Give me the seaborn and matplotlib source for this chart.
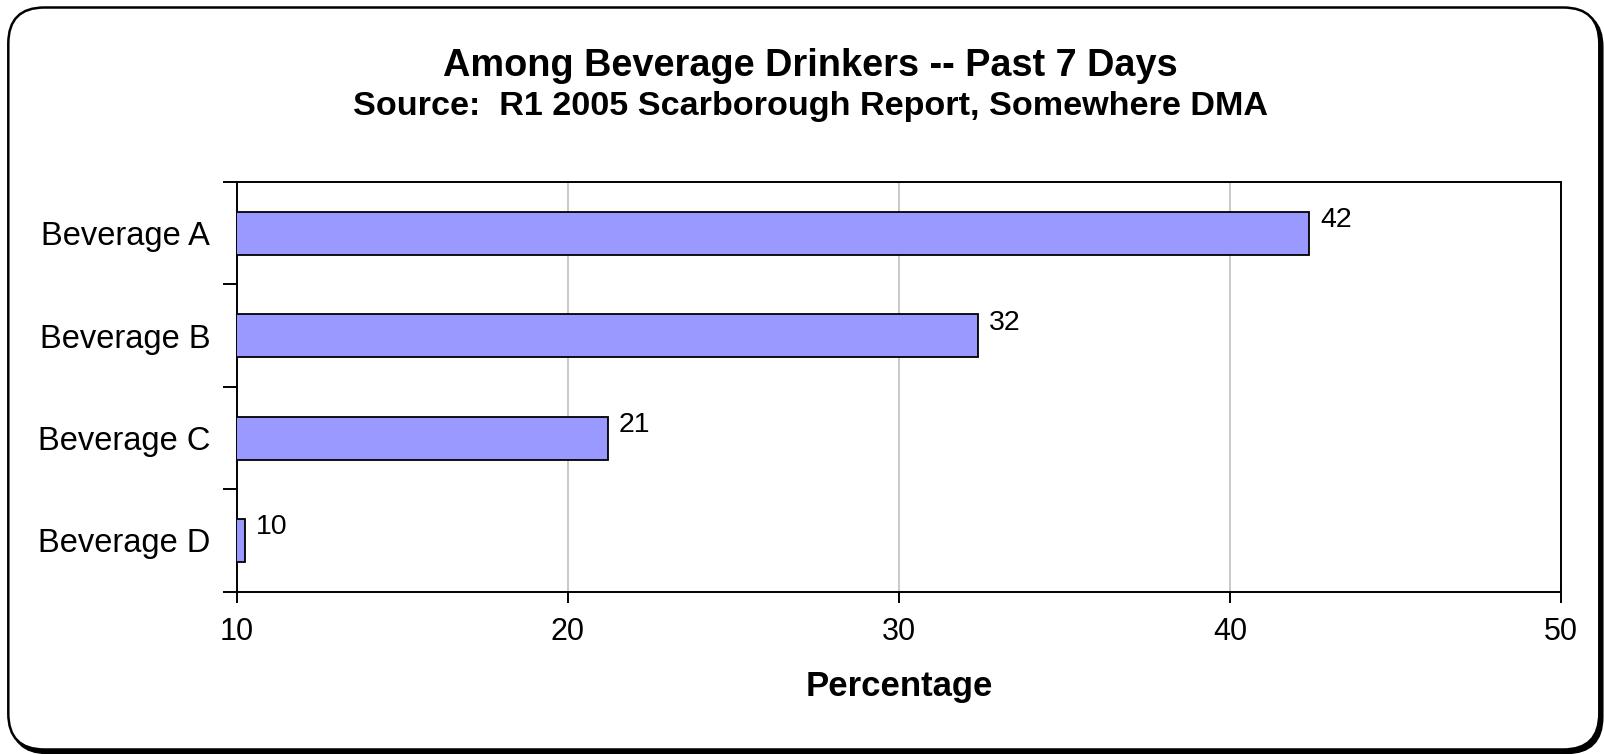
import matplotlib
matplotlib.use("Agg")
import matplotlib.pyplot as plt
from matplotlib.patches import FancyBboxPatch
from matplotlib.ticker import FixedLocator
import seaborn as sns
import pandas as pd

# Survey results: share of beverage drinkers in the past 7 days
categories = ["Beverage A", "Beverage B", "Beverage C", "Beverage D"]
percentages = [42.4, 32.4, 21.2, 10.25]
x_ticks = [10, 20, 30, 40, 50]

title = "Among Beverage Drinkers -- Past 7 Days"
subtitle = "Source:  R1 2005 Scarborough Report, Somewhere DMA"
x_label = "Percentage"

sns.set_style("white")
plt.rcParams["font.family"] = ["Liberation Sans", "DejaVu Sans"]

df = pd.DataFrame({"category": categories, "pct": percentages})

DPI = 100
fig = plt.figure(figsize=(16.04, 7.54), dpi=DPI)

# Rounded outer frame with a drop shadow, kept behind the axes
shadow = FancyBboxPatch((0.113, 0.01), 15.91, 7.42,
                        boxstyle="round,pad=0,rounding_size=0.36",
                        transform=fig.dpi_scale_trans, facecolor="black",
                        edgecolor="black", linewidth=1.8, zorder=-3)
frame = FancyBboxPatch((0.083, 0.045), 15.91, 7.42,
                       boxstyle="round,pad=0,rounding_size=0.36",
                       transform=fig.dpi_scale_trans, facecolor="white",
                       edgecolor="black", linewidth=1.8, zorder=-2)
fig.patches.extend([shadow, frame])

ax = fig.add_axes([0.1476, 0.2153, 0.9732 - 0.1476, 0.7586 - 0.2153])
ax.set_facecolor("none")

sns.barplot(data=df, x="pct", y="category", orient="h", color="#9999ff",
            edgecolor="black", linewidth=1.3, width=0.42, saturation=1,
            ax=ax, zorder=3)

ax.set_xlim(x_ticks[0], x_ticks[-1])
ax.set_ylim(len(categories) - 0.5, -0.5)
ax.set_xticks(x_ticks)
ax.xaxis.grid(True, color="#c0c0c0", linewidth=1.2, zorder=0)
ax.yaxis.grid(False)
ax.set_axisbelow(True)

for s in ax.spines.values():
    s.set_visible(True)
    s.set_color("black")
    s.set_linewidth(1.4)

# Category ticks sit on the boundaries between bars
ax.yaxis.set_minor_locator(FixedLocator([i - 0.5 for i in range(len(categories) + 1)]))
ax.tick_params(axis="y", which="minor", left=True, length=10, width=1.4, color="black")
ax.tick_params(axis="y", which="major", left=True, length=0, pad=19, labelsize=23.5,
               labelcolor="black")
ax.tick_params(axis="x", which="major", bottom=True, length=8, width=1.4, color="black",
               pad=10, labelsize=22, labelcolor="black")
ax.set_xticklabels([str(t) for t in x_ticks], fontsize=22)

ax.set_ylabel("")
ax.set_xlabel(x_label, fontsize=25, fontweight="bold", labelpad=17, color="black")

# Value labels to the right of each bar, sitting in its upper half
for i, v in enumerate(percentages):
    ax.annotate(f"{v:.0f}", xy=(v, i), xytext=(11, 6), textcoords="offset pixels",
                ha="left", va="baseline", fontsize=20.5, color="black", zorder=5)

fig.text(0.505, 1 - 75.5 / 754, title, ha="center", va="baseline",
         fontsize=27.3, fontweight="bold", color="black")
fig.text(0.505, 1 - 115.5 / 754, subtitle, ha="center", va="baseline",
         fontsize=24.6, fontweight="bold", color="black")

fig.savefig("out.png", dpi=DPI)
